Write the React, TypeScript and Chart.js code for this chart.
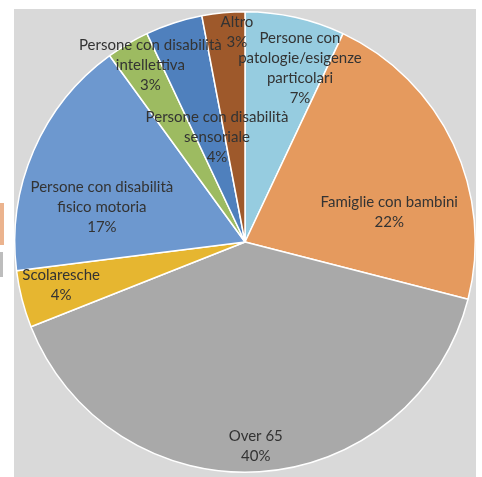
import React, { useEffect, useRef } from "react";
import { Chart, registerables } from "chart.js";

Chart.register(...registerables);

const categories: string[][] = [
  ["Persone con", "patologie/esigenze", "particolari"],
  ["Famiglie con bambini"],
  ["Over 65"],
  ["Scolaresche"],
  ["Persone con disabilità", "fisico motoria"],
  ["Persone con disabilità", "intellettiva"],
  ["Persone con disabilità", "sensoriale"],
  ["Altro"],
];
const values: number[] = [7, 22, 40, 4, 17, 3, 4, 3];
const percentLabels: string[] = ["7%", "22%", "40%", "4%", "17%", "3%", "4%", "3%"];

const colors: string[] = [
  "#96CCE0",
  "#E59A5E",
  "#A9A9A9",
  "#E6B630",
  "#6D98CF",
  "#9DBB61",
  "#4F80BD",
  "#9E592B",
];

// label placement (fraction of radius, angle shift in degrees from slice middle)
const labelRadius: number[] = [0.79, 0.64, 0.89, 0.82, 0.64, 0.87, 0.47, 0.91];
const labelShift: number[] = [5, 13.4, 0.6, 1.2, -9.6, 2.4, 3, 3.2];

const FONT = "15px Lato, 'Liberation Sans', sans-serif";
const LINE_H = 20;

const labelPlugin = {
  id: "sliceLabels",
  afterDatasetsDraw(chart: any) {
    const ctx = chart.ctx;
    const meta = chart.getDatasetMeta(0);
    ctx.save();
    ctx.font = FONT;
    ctx.fillStyle = "#333333";
    ctx.textAlign = "center";
    ctx.textBaseline = "middle";
    meta.data.forEach((arc: any, i: number) => {
      const { startAngle, endAngle, outerRadius, x, y } = arc.getProps(
        ["startAngle", "endAngle", "outerRadius", "x", "y"],
        true
      );
      const mid = (startAngle + endAngle) / 2 + (labelShift[i] * Math.PI) / 180;
      const r = outerRadius * labelRadius[i];
      const cx = x + Math.cos(mid) * r;
      const cy = y + Math.sin(mid) * r;
      const lines = [...categories[i], percentLabels[i]];
      const top = cy - ((lines.length - 1) * LINE_H) / 2;
      lines.forEach((ln, k) => ctx.fillText(ln, cx, top + k * LINE_H));
    });
    ctx.restore();
  },
};

export default function App() {
  const ref = useRef<HTMLCanvasElement | null>(null);
  useEffect(() => {
    if (!ref.current) return;
    const chart = new Chart(ref.current, {
      type: "pie",
      data: {
        labels: categories.map((c) => c.join(" ")),
        datasets: [
          {
            data: values,
            backgroundColor: colors,
            borderColor: "#ffffff",
            borderWidth: 1.5,
          },
        ],
      },
      options: {
        animation: false,
        responsive: false,
        devicePixelRatio: 1,
        layout: { padding: { left: 14, right: 6, top: 11, bottom: 4 } },
        plugins: {
          legend: { display: false },
          tooltip: { enabled: false },
        },
      },
      plugins: [labelPlugin],
    });
    return () => chart.destroy();
  }, []);

  return (
    <div
      style={{
        position: "fixed",
        left: 0,
        top: 0,
        width: 482,
        height: 477,
        background: "#ffffff",
        overflow: "hidden",
      }}
    >
      <div style={{ position: "absolute", left: 0, top: 203, width: 4, height: 42, background: "#EBB38E" }} />
      <div style={{ position: "absolute", left: 0, top: 252, width: 3, height: 25, background: "#BDBDBD" }} />
      <div
        style={{
          position: "absolute",
          left: 14,
          top: 9,
          width: 462,
          height: 468,
          background: "#D9D9D9",
        }}
      />
      <canvas
        ref={ref}
        width={482}
        height={477}
        style={{ position: "absolute", left: 0, top: 0, width: 482, height: 477 }}
      />
    </div>
  );
}
